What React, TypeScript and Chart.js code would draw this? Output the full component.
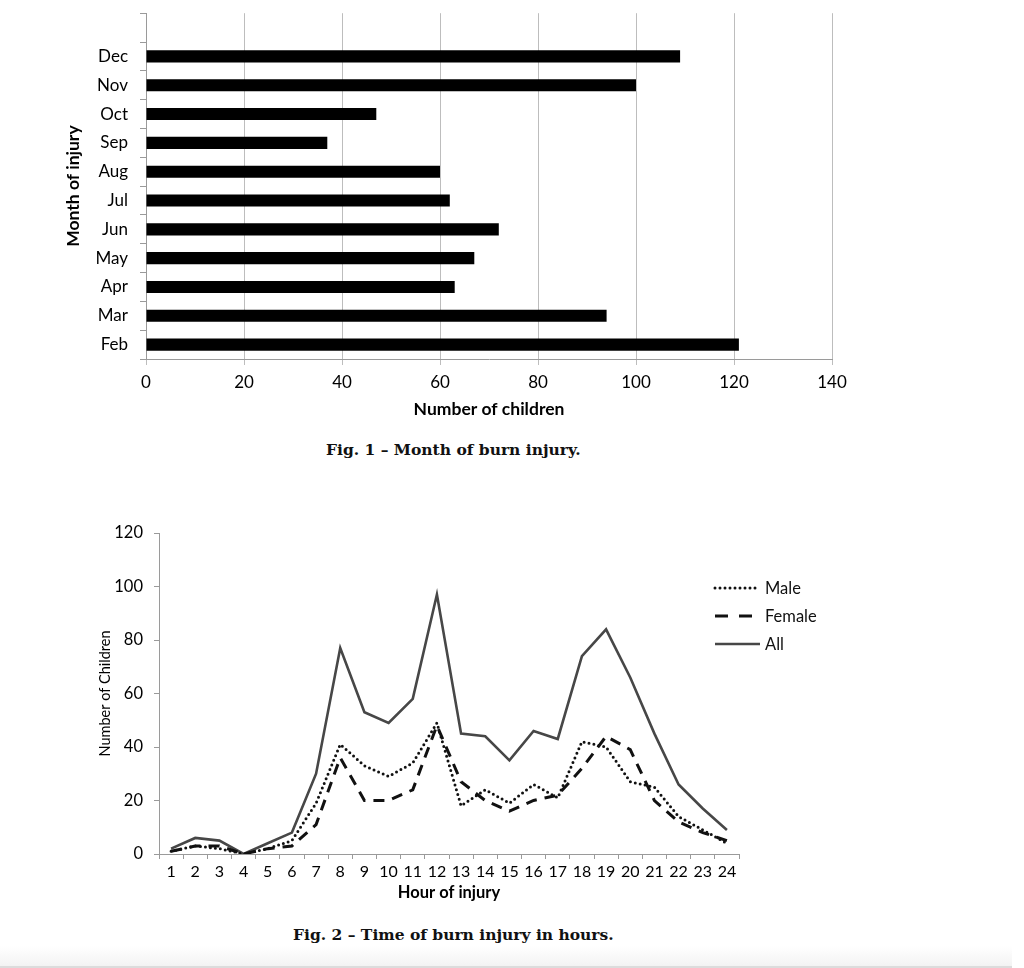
import React, { useEffect, useRef } from 'react';
import { Chart, registerables } from 'chart.js';

Chart.register(...registerables);

// ---------- Fig. 1 data ----------
const months = ['Feb', 'Mar', 'Apr', 'May', 'Jun', 'Jul', 'Aug', 'Sep', 'Oct', 'Nov', 'Dec', ''];
const monthCounts = [121, 94, 63, 67, 72, 62, 60, 37, 47, 100, 109, null];
const monthAxisMin = 0;
const monthAxisMax = 140;
const monthAxisStep = 20;

// ---------- Fig. 2 data ----------
const hours = ['1', '2', '3', '4', '5', '6', '7', '8', '9', '10', '11', '12', '13', '14', '15', '16', '17', '18', '19', '20', '21', '22', '23', '24'];
const maleCounts = [1, 3, 2, 0, 2, 5, 19, 41, 33, 29, 34, 49, 18, 24, 19, 26, 21, 42, 40, 27, 25, 14, 9, 4];
const femaleCounts = [1, 3, 3, 0, 2, 3, 11, 36, 20, 20, 24, 48, 27, 20, 16, 20, 22, 32, 44, 39, 20, 12, 8, 5];
const allCounts = [2, 6, 5, 0, 4, 8, 30, 77, 53, 49, 58, 97, 45, 44, 35, 46, 43, 74, 84, 66, 45, 26, 17, 9];
const hourAxisMin = 0;
const hourAxisMax = 120;
const hourAxisStep = 20;

const FONT = 'Lato';
const AXIS_GRAY = '#9a9a9a';

const insideLegend = {
  id: 'insideLegend',
  afterDatasetsDraw(chart: any) {
    const { ctx, chartArea } = chart;
    const x0 = chartArea.right - 24;
    const y0 = chartArea.top + 55;
    const gap = 28;
    const len = 45;
    ctx.save();
    chart.data.datasets.forEach((ds: any, i: number) => {
      const y = y0 + i * gap;
      ctx.beginPath();
      ctx.setLineDash(ds.legendDash || ds.borderDash || []);
      ctx.lineCap = ds.borderCapStyle || 'butt';
      ctx.strokeStyle = ds.borderColor;
      ctx.lineWidth = ds.borderWidth;
      ctx.moveTo(x0, y);
      ctx.lineTo(x0 + len, y);
      ctx.stroke();
      ctx.setLineDash([]);
      ctx.fillStyle = '#111';
      ctx.font = `16.5px ${FONT}`;
      ctx.textBaseline = 'middle';
      ctx.textAlign = 'left';
      ctx.fillText(ds.label, x0 + len + 5, y + 1);
    });
    ctx.restore();
  },
};

function MonthChart() {
  const ref = useRef<HTMLCanvasElement | null>(null);
  useEffect(() => {
    const chart = new Chart(ref.current as HTMLCanvasElement, {
      type: 'bar',
      data: {
        labels: months,
        datasets: [
          {
            data: monthCounts as any,
            backgroundColor: '#000',
            borderWidth: 0,
            barPercentage: 0.42,
            categoryPercentage: 1,
          },
        ],
      },
      options: {
        indexAxis: 'y',
        responsive: false,
        animation: false,
        devicePixelRatio: 1,
        layout: { padding: { left: 63, top: 10, right: 68, bottom: 0 } },
        plugins: { legend: { display: false }, tooltip: { enabled: false } },
        scales: {
          x: {
            min: monthAxisMin,
            max: monthAxisMax,
            ticks: { stepSize: monthAxisStep, color: '#000', font: { family: FONT, size: 17 }, padding: 7 },
            grid: { color: '#bdbdbd', tickLength: 6, drawTicks: true },
            border: { color: AXIS_GRAY },
            title: {
              display: true,
              text: 'Number of children',
              color: '#000',
              font: { family: FONT, size: 17.5, weight: 'bold' },
              padding: { top: 0, bottom: 10.5 },
            },
            afterFit: (s: any) => {
              s.height = 71;
            },
          } as any,
          y: {
            reverse: true,
            ticks: { color: '#000', font: { family: FONT, size: 17 }, padding: 12 },
            grid: { drawOnChartArea: false, offset: true, tickLength: 6, color: AXIS_GRAY },
            border: { color: AXIS_GRAY },
            title: {
              display: true,
              text: 'Month of injury',
              color: '#000',
              font: { family: FONT, size: 17.5, weight: 'bold' },
              padding: { top: 0, bottom: 0 },
            },
            afterFit: (s: any) => {
              s.width = 83;
            },
          } as any,
        },
      },
    });
    return () => chart.destroy();
  }, []);
  return <canvas ref={ref} width={900} height={439} style={{ position: 'absolute', left: 0, top: -9 }} />;
}

function HourChart() {
  const ref = useRef<HTMLCanvasElement | null>(null);
  useEffect(() => {
    const chart = new Chart(ref.current as HTMLCanvasElement, {
      type: 'line',
      data: {
        labels: hours,
        datasets: [
          {
            label: 'Male',
            data: maleCounts,
            borderColor: '#111',
            borderWidth: 3,
            borderDash: [0, 5],
            borderCapStyle: 'round',
            pointRadius: 0,
            tension: 0,
            fill: false,
          },
          {
            label: 'Female',
            data: femaleCounts,
            borderColor: '#111',
            borderWidth: 3,
            borderDash: [11, 8],
            legendDash: [13, 11],
            borderCapStyle: 'butt',
            pointRadius: 0,
            tension: 0,
            fill: false,
          },
          {
            label: 'All',
            data: allCounts,
            borderColor: '#474747',
            borderWidth: 2.6,
            borderDash: [],
            borderCapStyle: 'butt',
            pointRadius: 0,
            tension: 0,
            fill: false,
          },
        ] as any,
      },
      options: {
        responsive: false,
        animation: false,
        devicePixelRatio: 1,
        layout: { padding: { left: 96, top: 33, right: 285, bottom: 0 } },
        plugins: { legend: { display: false }, tooltip: { enabled: false } },
        scales: {
          x: {
            offset: true,
            ticks: { color: '#000', font: { family: FONT, size: 16 }, padding: 3, maxRotation: 0, autoSkip: false },
            grid: { drawOnChartArea: false, offset: true, tickLength: 5, color: AXIS_GRAY },
            border: { color: AXIS_GRAY },
            title: {
              display: true,
              text: 'Hour of injury',
              color: '#000',
              font: { family: FONT, size: 16.5, weight: 'bold' },
              padding: { top: 0, bottom: 0 },
            },
            afterFit: (s: any) => {
              s.height = 49;
            },
          } as any,
          y: {
            min: hourAxisMin,
            max: hourAxisMax,
            ticks: { stepSize: hourAxisStep, color: '#000', font: { family: FONT, size: 16.5 }, padding: 11 },
            grid: { drawOnChartArea: false, tickLength: 5, color: AXIS_GRAY },
            border: { color: AXIS_GRAY },
            title: {
              display: true,
              text: 'Number of Children',
              color: '#000',
              font: { family: FONT, size: 14.5 },
              padding: { top: 1, bottom: 0 },
            },
            afterFit: (s: any) => {
              s.width = 63;
            },
          } as any,
        },
      },
      plugins: [insideLegend],
    });
    return () => chart.destroy();
  }, []);
  return <canvas ref={ref} width={1024} height={403} style={{ position: 'absolute', left: 0, top: 500 }} />;
}

const captionStyle: React.CSSProperties = {
  position: 'absolute',
  fontFamily: '"DejaVu Serif", serif',
  fontWeight: 'bold',
  fontSize: 15.5,
  color: '#111',
  whiteSpace: 'nowrap',
  lineHeight: '19px',
};

export default function App() {
  return (
    <div
      style={{
        position: 'fixed',
        left: 0,
        top: 0,
        width: 1024,
        height: 968,
        background: '#fff',
        overflow: 'hidden',
      }}
    >
      <MonthChart />
      <div style={{ ...captionStyle, left: 326, top: 440 }}>Fig. 1 – Month of burn injury.</div>
      <HourChart />
      <div style={{ ...captionStyle, left: 293, top: 925 }}>Fig. 2 – Time of burn injury in hours.</div>
      <div
        style={{
          position: 'absolute',
          left: 0,
          top: 946,
          width: 1012,
          height: 20,
          background: 'linear-gradient(#ffffff, #f3f3f3)',
        }}
      />
      <div style={{ position: 'absolute', left: 0, top: 966, width: 1012, height: 2, background: '#dcdcdc' }} />
    </div>
  );
}
